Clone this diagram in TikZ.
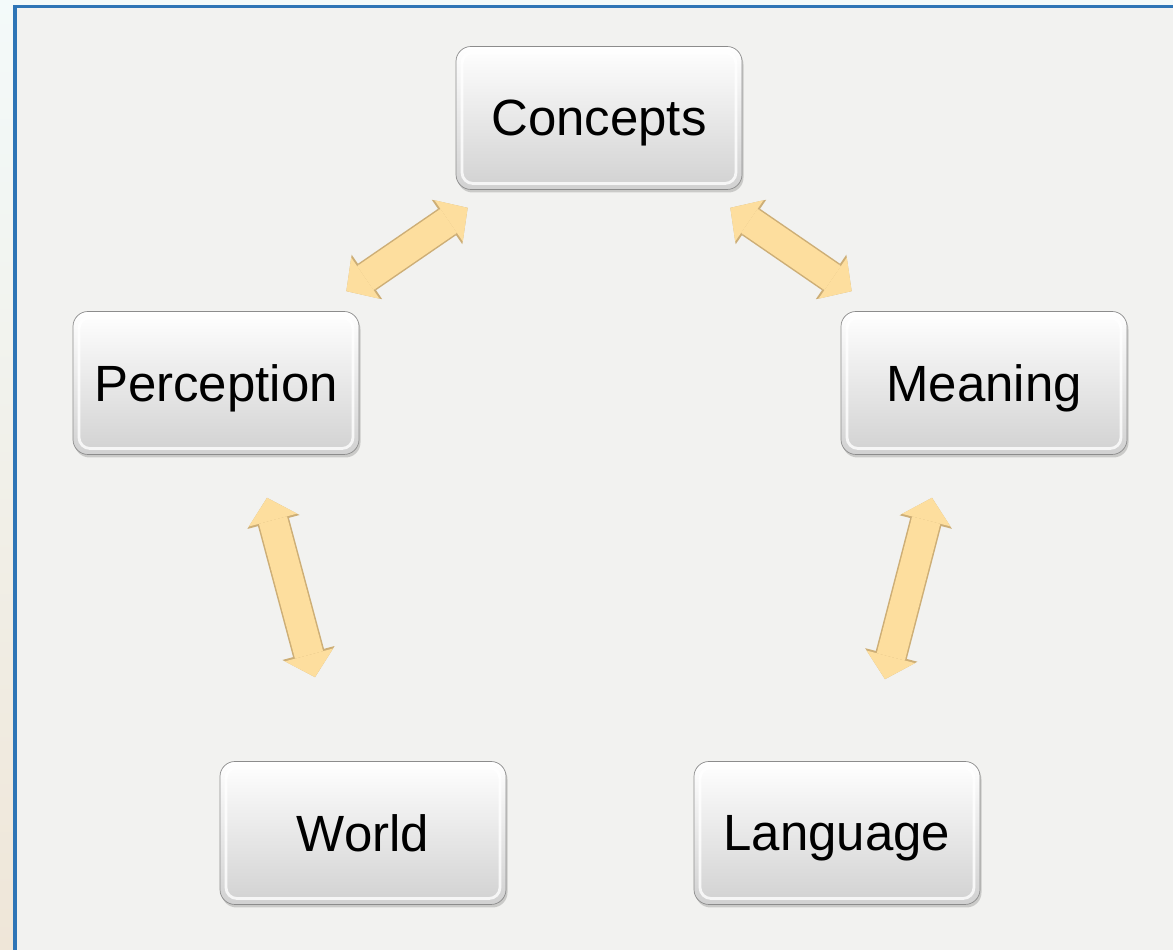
\documentclass[tikz,border=0pt]{standalone}
\usepackage{fontspec}
\setmainfont{Liberation Sans}
\usepackage{xcolor}
\usepackage{tikz}
\usetikzlibrary{calc, arrows.meta, shadows}

\definecolor{panelgray}{HTML}{F2F2F0}
\definecolor{frameblue}{HTML}{2E75B6}
\definecolor{stripcyan}{HTML}{F3FAFA}
\definecolor{stripbeige}{HTML}{EFE6D8}
\definecolor{linkfill}{HTML}{FDDE9E}
\definecolor{linkedge}{HTML}{CDAE76}

\begin{document}
\begin{tikzpicture}[>=Latex]
    \tikzstyle{box} = [rectangle, draw=black!45, top color=white, bottom color=black!18, rounded corners=0.3cm, minimum width=5.72cm, minimum height=2.86cm, text depth=0pt, font=\fontsize{29}{34}\selectfont, drop shadow={shadow xshift=0.03cm, shadow yshift=-0.06cm, opacity=0.35}, path picture={\draw[white, line width=1.6pt, opacity=0.8, rounded corners=0.22cm] ([shift={(0.12,-0.12)}]path picture bounding box.north west) rectangle ([shift={(-0.12,0.12)}]path picture bounding box.south east);}]
    \tikzstyle{link} = [draw=linkfill, line width=0.58cm, arrows={Triangle[width=1.0cm, length=0.46cm, line width=0pt]-Triangle[width=1.0cm, length=0.46cm, line width=0pt]}, preaction={draw=linkedge, line width=0.64cm, arrows={Triangle[width=1.08cm, length=0.5cm, line width=0pt]-Triangle[width=1.08cm, length=0.5cm, line width=0pt]}}]

    % page and frame
    \useasboundingbox (0,0) rectangle (23.46,19);
    \fill[panelgray] (0,0) rectangle (23.46,19);
    \shade[top color=stripcyan, bottom color=stripbeige] (0,0) rectangle (0.26,19);
    \fill[stripcyan] (0.26,18.9) rectangle (23.46,19);
    \fill[frameblue] (0.26,0) rectangle (0.34,18.9);
    \fill[frameblue] (0.26,18.84) rectangle (23.46,18.9);

    \node [box] (concepts) at (11.98,16.64) {Concepts};
    \node [box] (percept) at (4.32,11.34) {Perception};
    \node [box] (meaning) at (19.68,11.34) {Meaning};
    \node [box] (world) at (7.26,2.34) {World};
    \node [box] (lang) at (16.74,2.34) {Language};

    \path [link] ($(percept.north east)+(-0.26,0.40)$) -- ($(concepts.south west)+(0.24,-0.36)$);
    \path [link] ($(concepts.south east)+(-0.24,-0.36)$) -- ($(meaning.north west)+(0.22,0.40)$);
    \path [link] ($(percept.south)+(1.02,-0.86)$) -- ($(world.north)+(-0.96,1.68)$);
    \path [link] ($(meaning.south)+(-1.04,-0.86)$) -- ($(lang.north)+(0.96,1.64)$);
\end{tikzpicture}
\end{document}
